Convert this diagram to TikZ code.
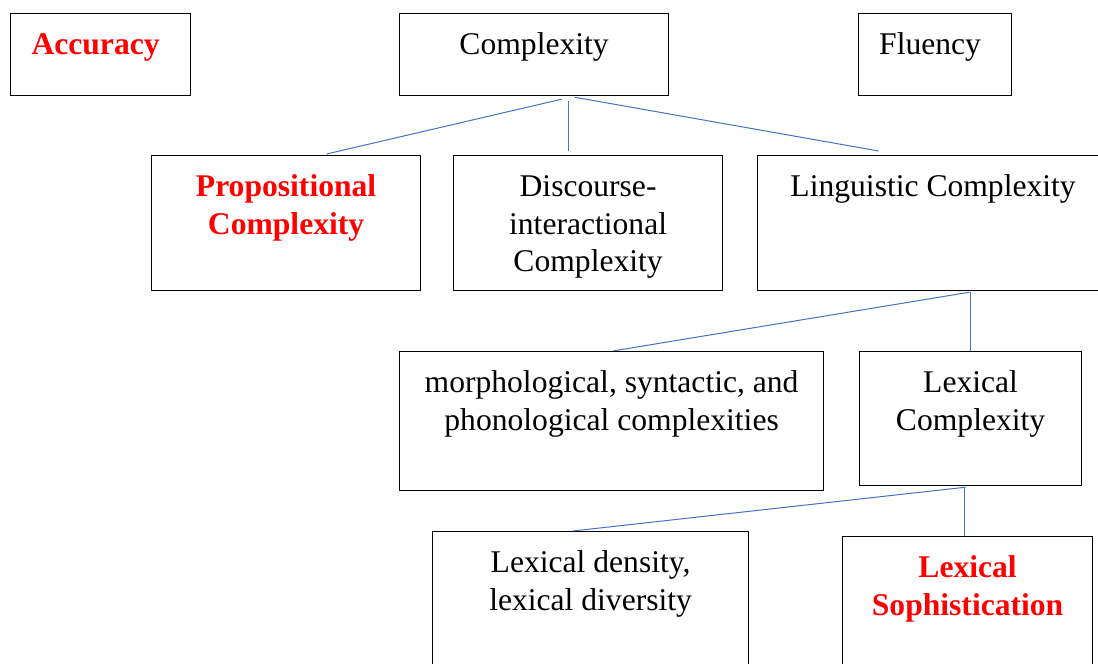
\documentclass[tikz,border=0pt]{standalone}
\usepackage{fontspec}
\setmainfont{Liberation Serif}
\usepackage{xcolor}
\definecolor{linkblue}{HTML}{4472C4}

% text block of a box: width, height, lines (top aligned)
\newcommand{\celltext}[3]{\parbox[c][#2][t]{#1}{\centering\vspace*{7.5pt}\strut #3}}

\begin{document}
\begin{tikzpicture}[
    x=0.5pt, y=-0.5pt,
    box/.style = {draw, line width=0.6pt, inner sep=0pt, anchor=north west, font=\fontsize{15.8}{18.7}\selectfont},
    hot/.style = {text=red, font=\fontsize{15.8}{18.7}\selectfont\bfseries},
    link/.style = {draw=linkblue, line width=0.5pt}
]
\useasboundingbox (0,0) rectangle (1098,664);
\clip (0,0) rectangle (1098,664);

% Top row
\node[box, hot] (acc) at (10,13) {\celltext{90pt}{41pt}{\hspace*{-5pt}Accuracy}};
\node[box] (cx) at (399,13) {\celltext{134.5pt}{41pt}{Complexity}};
\node[box] (flu) at (858,13) {\celltext{76.5pt}{41pt}{\hspace*{-5pt}Fluency}};

% Second row
\node[box, hot] (prop) at (151,155) {\celltext{134.5pt}{67.5pt}{Propositional\\Complexity}};
\node[box] (disc) at (453,155) {\celltext{134.5pt}{67.5pt}{Discourse-\\interactional\\Complexity}};
\node[box] (ling) at (757,155) {\celltext{175.5pt}{67.5pt}{Linguistic Complexity}};

% Third row
\node[box] (morph) at (399,351) {\celltext{212pt}{69.5pt}{morphological, syntactic, and\\phonological complexities}};
\node[box] (lexc) at (859,351) {\celltext{111pt}{67pt}{Lexical\\Complexity}};

% Bottom row
\node[box] (dens) at (432,531) {\celltext{158pt}{85pt}{Lexical density,\\lexical diversity}};
\node[box, hot] (soph) at (842,536) {\celltext{125pt}{82pt}{Lexical\\Sophistication}};

% Connectors
\draw[link] ([shift={(27.5,3)}]cx.south) -- ([shift={(40.5,-1)}]prop.north);
\draw[link] ([shift={(34.5,5)}]cx.south) -- ([shift={(-19.5,-4)}]disc.north);
\draw[link] ([shift={(40.5,1)}]cx.south) -- ([shift={(-54.5,-4)}]ling.north);

\draw[link] ([shift={(36.5,1)}]ling.south) -- ([shift={(1,0)}]morph.north);
\draw[link] ([shift={(37.5,1)}]ling.south) -- (lexc.north);

\draw[link] ([shift={(-5,1)}]lexc.south) -- ([shift={(-18,0)}]dens.north);
\draw[link] ([shift={(-6,1)}]lexc.south) -- ([shift={(-3,0)}]soph.north);

\end{tikzpicture}
\end{document}
